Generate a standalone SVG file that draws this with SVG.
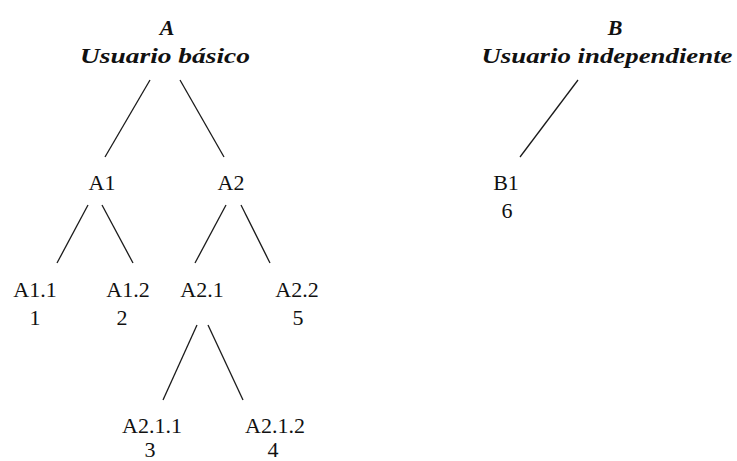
<svg xmlns="http://www.w3.org/2000/svg" width="737" height="461" viewBox="0 0 737 461">
<style>
.t{font-family:"Liberation Serif","Times New Roman",serif;font-size:22px;fill:#111;text-anchor:middle}
.h{font-family:"Liberation Serif","Times New Roman",serif;font-size:22px;font-weight:bold;font-style:italic;fill:#111;text-anchor:middle}
.c line{stroke:#1a1a1a;stroke-width:1.3;fill:none}
</style>
<rect width="737" height="461" fill="#fff"/>
<g class="c" id="connectors">
<line x1="150" y1="80" x2="105" y2="157"/>
<line x1="180" y1="80" x2="224" y2="157"/>
<line x1="88" y1="205" x2="57" y2="263"/>
<line x1="102" y1="205" x2="133" y2="263"/>
<line x1="226" y1="205" x2="195" y2="263"/>
<line x1="241" y1="205" x2="270" y2="263"/>
<line x1="197" y1="325" x2="163" y2="400"/>
<line x1="208" y1="325" x2="243" y2="400"/>
<line x1="578" y1="80" x2="520" y2="157"/>
</g>
<g id="nA"><text class="h" x="167" y="35">A</text><text class="h" x="165" y="63" textLength="170" lengthAdjust="spacingAndGlyphs">Usuario básico</text></g>
<g id="nB"><text class="h" x="615" y="35">B</text><text class="h" x="607" y="63" textLength="251" lengthAdjust="spacingAndGlyphs">Usuario independiente</text></g>
<g id="nA1"><text class="t" x="102" y="190">A1</text></g>
<g id="nA2"><text class="t" x="231" y="190">A2</text></g>
<g id="nA11"><text class="t" x="35" y="297">A1.1</text><text class="t" x="35" y="325">1</text></g>
<g id="nA12"><text class="t" x="128" y="297">A1.2</text><text class="t" x="122" y="325">2</text></g>
<g id="nA21"><text class="t" x="202" y="297">A2.1</text></g>
<g id="nA22"><text class="t" x="297" y="297">A2.2</text><text class="t" x="298" y="325">5</text></g>
<g id="nA211"><text class="t" x="152" y="433">A2.1.1</text><text class="t" x="150" y="457">3</text></g>
<g id="nA212"><text class="t" x="275" y="433">A2.1.2</text><text class="t" x="273" y="457">4</text></g>
<g id="nB1"><text class="t" x="506" y="190">B1</text><text class="t" x="507" y="218">6</text></g>
</svg>
